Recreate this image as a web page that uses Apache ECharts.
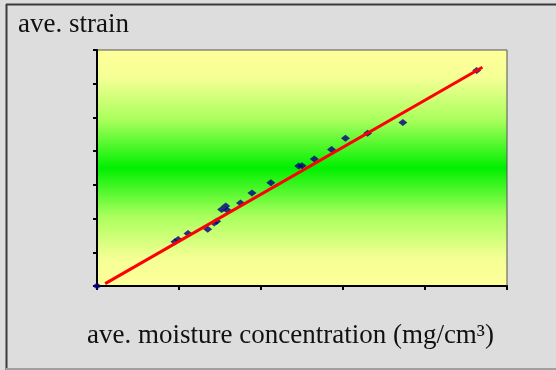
<!DOCTYPE html>
<html>
<head>
<meta charset="utf-8">
<title>ave. strain</title>
<script src="https://cdn.jsdelivr.net/npm/echarts@6/dist/echarts.min.js"></script>
<style>
  html, body { margin: 0; padding: 0; background: #dddddd; }
  #chart { width: 556px; height: 370px; }
</style>
</head>
<body>
<div id="chart"></div>
<script>
// measured points (moisture, strain) - axes carry no labels, units are tick steps
var moisture = [0, 0.95, 0.99, 1.11, 1.35, 1.43, 1.46, 1.52, 1.57, 1.59, 1.75, 1.89, 2.12, 2.46, 2.50, 2.65, 2.86, 3.03, 3.30, 3.73, 4.63];
var strain   = [0, 1.31, 1.38, 1.56, 1.68, 1.87, 1.92, 2.27, 2.37, 2.25, 2.46, 2.76, 3.06, 3.56, 3.57, 3.77, 4.05, 4.38, 4.53, 4.85, 6.39];
// fitted trend line ends
var fitX = [0.10, 4.70];
var fitY = [0.07, 6.49];
var xTicks = [0, 1, 2, 3, 4, 5];
var yTicks = [0, 1, 2, 3, 4, 5, 6, 7];

var chart = echarts.init(document.getElementById('chart'));

var pts = moisture.map(function (x, i) { return [x, strain[i]]; });
var fit = fitX.map(function (x, i) { return [x, fitY[i]]; });

var serif = { fontFamily: 'Liberation Serif', fontSize: 27, fontWeight: 'normal', color: '#111' };

var option = {
  backgroundColor: '#dddddd',
  animation: false,
  title: [{
    text: 'ave. strain',
    left: 13, top: 6,
    textStyle: serif
  }, {
    text: 'ave. moisture concentration (mg/cm³)',
    left: 82, top: 317,
    textStyle: serif
  }],
  graphic: [
    // outer frame: dark top/left, light bottom
    { type: 'line', shape: { x1: 6, y1: 4.5, x2: 556, y2: 4.5 }, style: { stroke: '#3a3a3a', lineWidth: 2 } },
    { type: 'line', shape: { x1: 6.5, y1: 4, x2: 6.5, y2: 370 }, style: { stroke: '#3a3a3a', lineWidth: 2 } },
    { type: 'line', shape: { x1: 6, y1: 369, x2: 556, y2: 369 }, style: { stroke: '#a0a0a0', lineWidth: 2 } }
  ],
  grid: {
    left: 97, top: 50, width: 410, height: 236,
    show: true,
    borderColor: '#555',
    borderWidth: 1,
    backgroundColor: {
      type: 'linear', x: 0, y: 0, x2: 0, y2: 1,
      colorStops: [
        { offset: 0, color: '#ffff99' },
        { offset: 0.12, color: '#f4ff94' },
        { offset: 0.30, color: '#a8ff5c' },
        { offset: 0.5, color: '#00f000' },
        { offset: 0.70, color: '#a8ff5c' },
        { offset: 0.88, color: '#f4ff94' },
        { offset: 1, color: '#ffff99' }
      ]
    }
  },
  xAxis: {
    type: 'value',
    min: xTicks[0], max: xTicks[xTicks.length - 1], interval: 1,
    axisLine: { show: true, lineStyle: { color: '#000', width: 2 } },
    axisTick: { show: true, length: 4, lineStyle: { color: '#000', width: 2 } },
    axisLabel: { show: false },
    splitLine: { show: false }
  },
  yAxis: {
    type: 'value',
    min: yTicks[0], max: yTicks[yTicks.length - 1], interval: 1,
    axisLine: { show: true, lineStyle: { color: '#000', width: 2 } },
    axisTick: { show: true, length: 4, lineStyle: { color: '#000', width: 2 } },
    axisLabel: { show: false },
    splitLine: { show: false }
  },
  series: [{
    type: 'scatter',
    data: pts,
    symbol: 'diamond',
    symbolSize: [9, 7],
    itemStyle: { color: '#000080' },
    z: 3
  }, {
    type: 'line',
    data: fit,
    symbol: 'none',
    lineStyle: { color: '#ff0000', width: 3 },
    z: 4
  }]
};

chart.setOption(option);
</script>
</body>
</html>
